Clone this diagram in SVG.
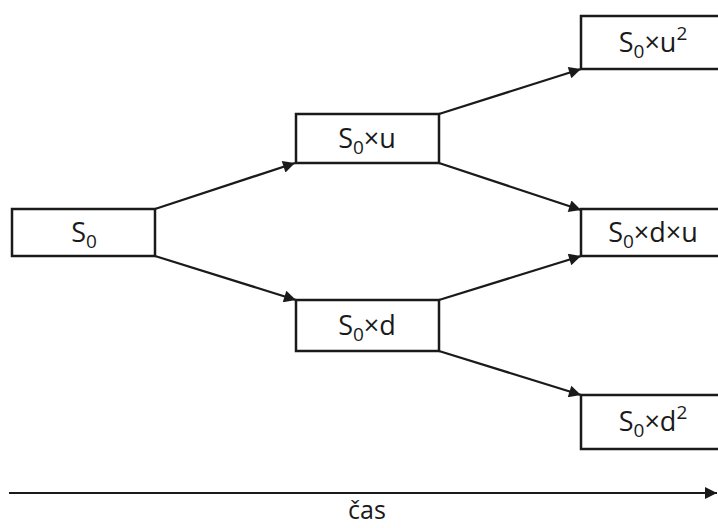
<svg xmlns="http://www.w3.org/2000/svg" width="718" height="528" viewBox="0 0 718 528">
  <style>
    .box { fill: #fff; stroke: #1a1a1a; stroke-width: 2.5; }
    .lbl { font-family: "Open Sans", "Noto Sans", sans-serif; font-size: 27px; fill: #1a1a1a; text-anchor: middle; }
    .sub { font-size: 19px; }
    .axis-lbl { font-size: 25px; }
    .edge { stroke: #1a1a1a; stroke-width: 2.3; fill: none; }
  </style>
  <defs>
    <marker id="arr" viewBox="0 0 10 10" refX="10" refY="5" markerWidth="16" markerHeight="12" markerUnits="userSpaceOnUse" orient="auto">
      <path d="M0,0 L10,5 L0,10 z" fill="#1a1a1a"/>
    </marker>
  </defs>

  <g id="connectors">
    <line class="edge" x1="155" y1="209" x2="295" y2="163" marker-end="url(#arr)"/>
    <line class="edge" x1="155" y1="256" x2="296" y2="300" marker-end="url(#arr)"/>
    <line class="edge" x1="439" y1="114" x2="581" y2="69" marker-end="url(#arr)"/>
    <line class="edge" x1="439" y1="163" x2="581" y2="210" marker-end="url(#arr)"/>
    <line class="edge" x1="439" y1="300" x2="581" y2="256" marker-end="url(#arr)"/>
    <line class="edge" x1="439" y1="351" x2="581" y2="395" marker-end="url(#arr)"/>
  </g>

  <g id="node-s0">
    <rect class="box" x="12" y="209" width="143" height="47"/>
    <text class="lbl" x="84" y="242">S<tspan class="sub" dy="6">0</tspan></text>
  </g>
  <g id="node-s0u">
    <rect class="box" x="296" y="114" width="143" height="49"/>
    <text class="lbl" x="367" y="148">S<tspan class="sub" dy="6">0</tspan><tspan dy="-6">×u</tspan></text>
  </g>
  <g id="node-s0d">
    <rect class="box" x="296" y="300" width="143" height="51"/>
    <text class="lbl" x="367" y="335">S<tspan class="sub" dy="6">0</tspan><tspan dy="-6">×d</tspan></text>
  </g>
  <g id="node-s0u2">
    <rect class="box" x="581" y="16" width="145" height="53"/>
    <text class="lbl" x="653" y="52">S<tspan class="sub" dy="6">0</tspan><tspan dy="-6">×u</tspan><tspan class="sub" dy="-12">2</tspan></text>
  </g>
  <g id="node-s0du">
    <rect class="box" x="581" y="209" width="145" height="47"/>
    <text class="lbl" x="653" y="242">S<tspan class="sub" dy="6">0</tspan><tspan dy="-6">×d×u</tspan></text>
  </g>
  <g id="node-s0d2">
    <rect class="box" x="581" y="395" width="145" height="54"/>
    <text class="lbl" x="653" y="431">S<tspan class="sub" dy="6">0</tspan><tspan dy="-6">×d</tspan><tspan class="sub" dy="-12">2</tspan></text>
  </g>

  <g id="time-axis">
    <line x1="9" y1="493" x2="717" y2="493" stroke="#1a1a1a" stroke-width="2" marker-end="url(#arr)"/>
    <text class="lbl axis-lbl" x="367" y="519">čas</text>
  </g>
</svg>
